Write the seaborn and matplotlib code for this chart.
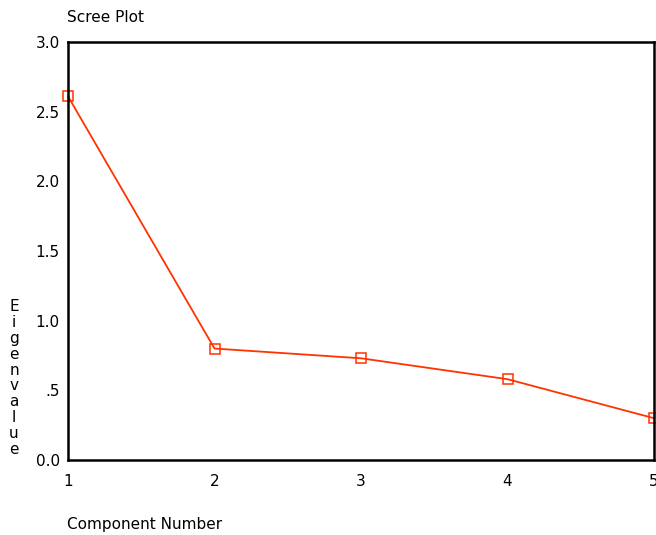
import pandas as pd
import matplotlib
matplotlib.use("Agg")
import matplotlib.pyplot as plt
import seaborn as sns

# data
components = [1, 2, 3, 4, 5]
eigenvalues = [2.61, 0.80, 0.73, 0.58, 0.30]
ytick_vals = [0.0, 0.5, 1.0, 1.5, 2.0, 2.5, 3.0]
ytick_labels = ["0.0", ".5", "1.0", "1.5", "2.0", "2.5", "3.0"]

df = pd.DataFrame({"Component": components, "Eigenvalue": eigenvalues})

sns.set_style("white")
plt.rcParams['font.family'] = ['DejaVu Sans']
plt.rcParams['text.color'] = 'black'

fig = plt.figure(figsize=(6.56, 5.35), dpi=100)
ax = fig.add_axes([68/656, 75/535, 586/656, 418/535])

sns.lineplot(data=df, x="Component", y="Eigenvalue", ax=ax, color="#ff3300",
             linewidth=1.3, marker="s", markersize=6.5, markerfacecolor="none",
             markeredgecolor="#ff3300", markeredgewidth=1.1, clip_on=False)

ax.set_xlim(1, 5)
ax.set_ylim(0, 3)
ax.set_xticks(components)
ax.set_xticklabels([str(c) for c in components])
ax.set_yticks(ytick_vals)
ax.set_yticklabels(ytick_labels)
ax.tick_params(axis="both", direction="out", length=2, width=2.5, color="black",
               labelcolor="black", labelsize=11, pad=4)
ax.tick_params(axis="x", pad=8)
for s in ax.spines.values():
    s.set_color("black")
    s.set_linewidth(1.8)
ax.set_xlabel("")
ax.set_ylabel("")

# title and axis labels in SPSS style
fig.text(67/656, 1 - 17/535, "Scree Plot", fontsize=11, ha="left", va="center")
fig.text(67/656, 1 - 525/535, "Component Number", fontsize=11, ha="left", va="center")
fig.text(14/656, 1 - 378/535, "\n".join("Eigenvalue"), fontsize=11, ha="center",
         va="center", linespacing=1.08)

fig.savefig("out.png", dpi=100)
